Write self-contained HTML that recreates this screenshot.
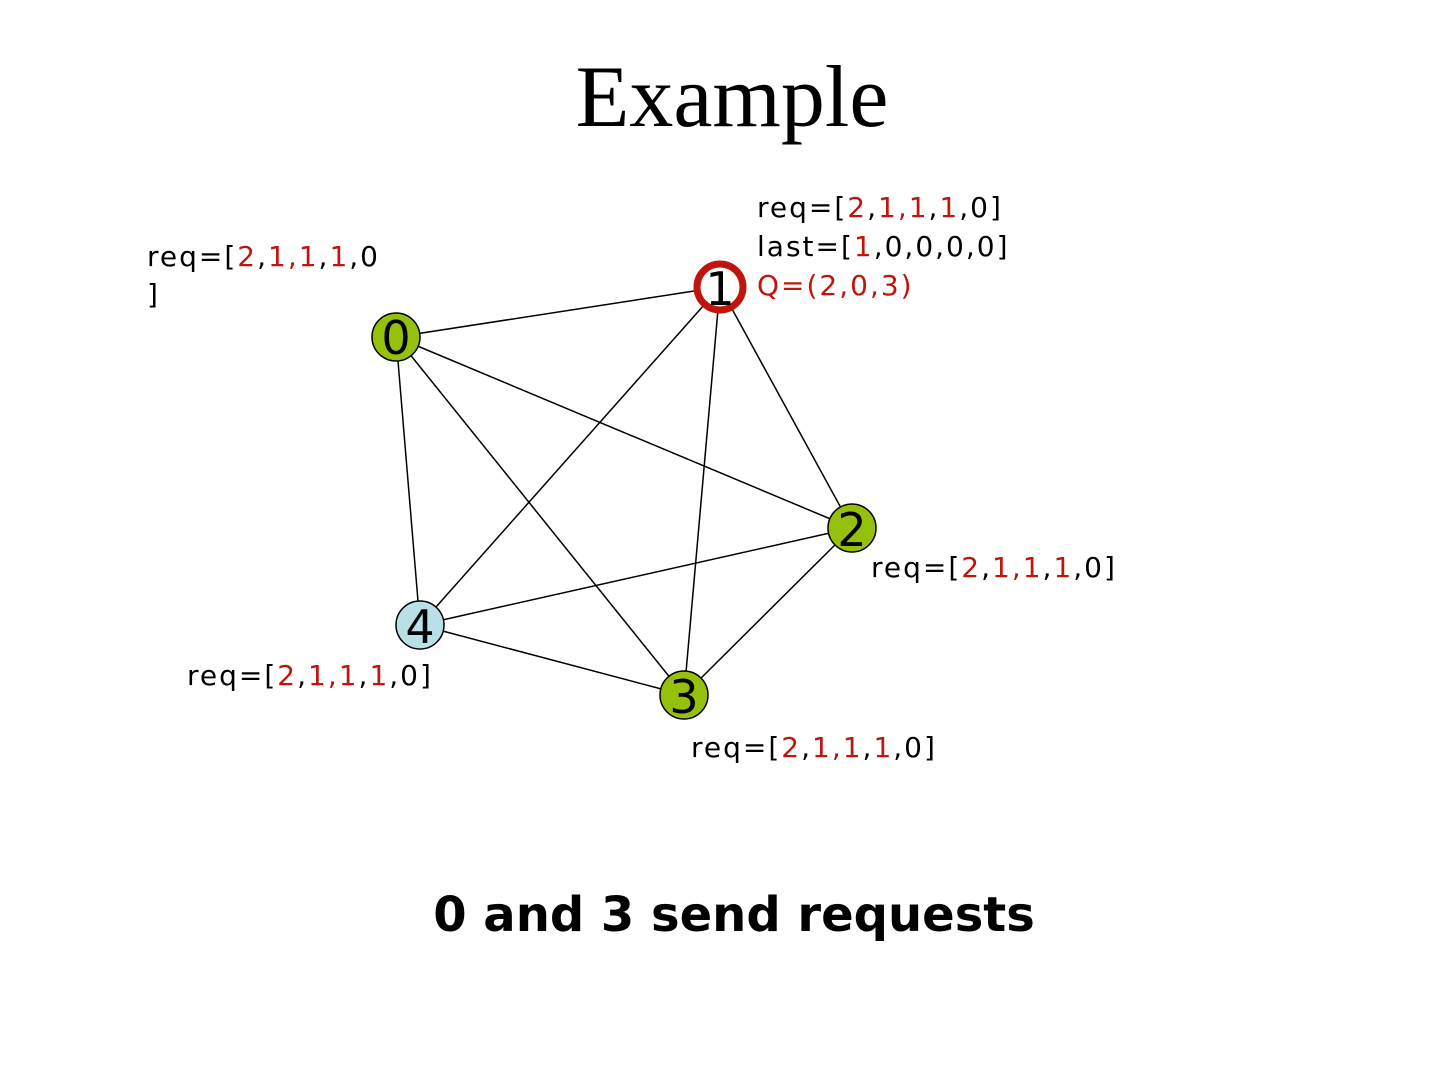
<!DOCTYPE html>
<html><head><style>
body{margin:0;background:#fff}
svg{display:block}
.l{font-family:"DejaVu Sans","Liberation Sans",sans-serif;font-size:28px;fill:#000;letter-spacing:2px}
.r{fill:#c0150c}
.n{font-family:"DejaVu Sans","Liberation Sans",sans-serif;font-size:46px;fill:#000;text-anchor:middle}
</style></head><body>
<svg width="1440" height="1080" viewBox="0 0 1440 1080">
<text x="732" y="126" text-anchor="middle" font-family="Liberation Serif,serif" font-size="88">Example</text>
<g stroke="#000" stroke-width="1.5">
<line x1="396" y1="337" x2="720" y2="287"/>
<line x1="396" y1="337" x2="852" y2="528"/>
<line x1="396" y1="337" x2="684" y2="695"/>
<line x1="396" y1="337" x2="420" y2="625"/>
<line x1="720" y1="287" x2="852" y2="528"/>
<line x1="720" y1="287" x2="684" y2="695"/>
<line x1="720" y1="287" x2="420" y2="625"/>
<line x1="852" y1="528" x2="420" y2="625"/>
<line x1="852" y1="528" x2="684" y2="695"/>
<line x1="420" y1="625" x2="684" y2="695"/>
</g>
<circle cx="396" cy="337" r="24" fill="#95c00c" stroke="#000" stroke-width="1.5"/>
<circle cx="720" cy="287" r="23" fill="#fff" stroke="#c0150c" stroke-width="7"/>
<circle cx="852" cy="528" r="24" fill="#95c00c" stroke="#000" stroke-width="1.5"/>
<circle cx="420" cy="625" r="24" fill="#b8e0e6" stroke="#000" stroke-width="1.5"/>
<circle cx="684" cy="695" r="24" fill="#95c00c" stroke="#000" stroke-width="1.5"/>
<text class="n" x="396" y="354">0</text>
<text class="n" x="720" y="305">1</text>
<text class="n" x="852" y="546">2</text>
<text class="n" x="420" y="643">4</text>
<text class="n" x="684" y="713">3</text>
<text class="l" x="147" y="266">req=[<tspan class="r">2</tspan>,<tspan class="r">1,1</tspan>,<tspan class="r">1</tspan>,0</text>
<text class="l" x="147" y="304">]</text>
<text class="l" x="757" y="217">req=[<tspan class="r">2</tspan>,<tspan class="r">1,1</tspan>,<tspan class="r">1</tspan>,0]</text>
<text class="l" x="757" y="256">last=[<tspan class="r">1</tspan>,0,0,0,0]</text>
<text class="l r" x="757" y="295">Q=(2,0,3)</text>
<text class="l" x="871" y="577">req=[<tspan class="r">2</tspan>,<tspan class="r">1,1</tspan>,<tspan class="r">1</tspan>,0]</text>
<text class="l" x="187" y="685">req=[<tspan class="r">2</tspan>,<tspan class="r">1,1</tspan>,<tspan class="r">1</tspan>,0]</text>
<text class="l" x="691" y="757">req=[<tspan class="r">2</tspan>,<tspan class="r">1,1</tspan>,<tspan class="r">1</tspan>,0]</text>
<text x="734" y="931" text-anchor="middle" font-family="DejaVu Sans,Liberation Sans,sans-serif" font-weight="bold" font-size="48">0 and 3 send requests</text>
</svg>
</body></html>
